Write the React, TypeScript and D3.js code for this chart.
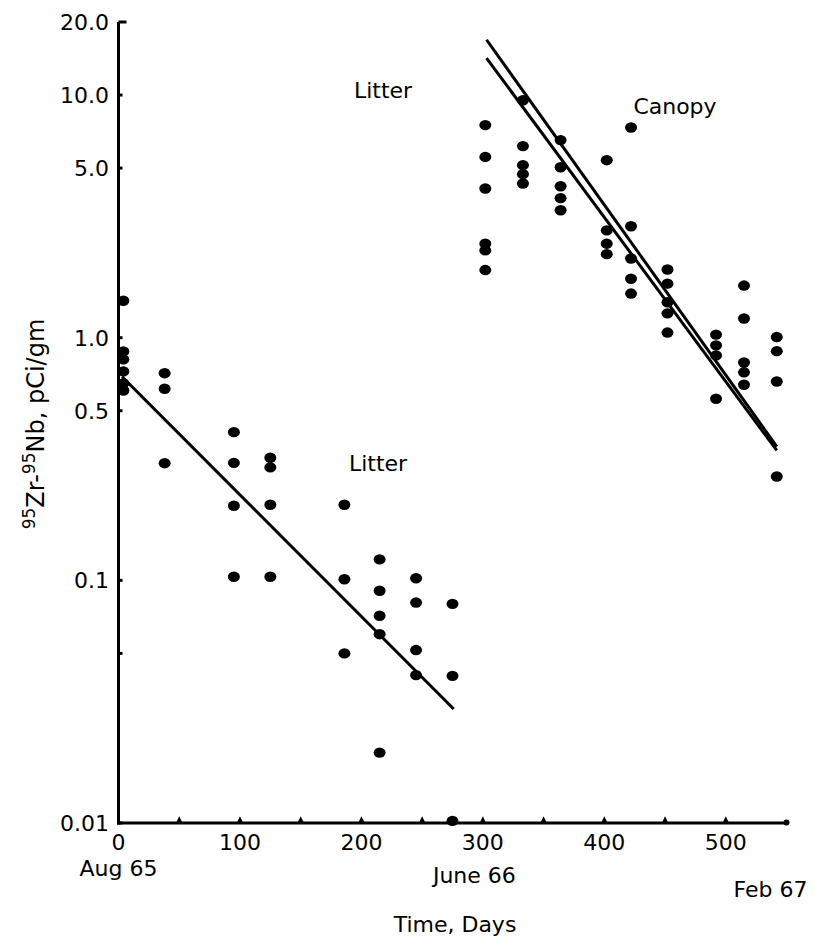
import React from "react";
import * as d3 from "d3";

// Sampling days and measured activities (pCi/gm) for each collection
const litterDays = [4, 38, 95, 125, 186, 215, 245, 275];
const litterValues = [
  [1.42, 0.878, 0.814, 0.726, 0.648, 0.606],
  [0.714, 0.616, 0.304],
  [0.408, 0.305, 0.203, 0.1035],
  [0.32, 0.292, 0.205, 0.1035],
  [0.205, 0.101, 0.05],
  [0.122, 0.0906, 0.0715, 0.06, 0.0195],
  [0.102, 0.081, 0.0516, 0.0407],
  [0.08, 0.0404, 0.0102],
];

const canopyDays = [302, 333, 364, 402, 422, 452, 492, 515, 542];
const canopyValues = [
  [7.52, 5.56, 4.12, 2.44, 2.29, 1.9],
  [9.52, 6.16, 5.14, 4.72, 4.32],
  [6.52, 5.04, 4.21, 3.76, 3.35],
  [5.39, 2.77, 2.44, 2.21],
  [7.35, 2.88, 2.12, 1.75, 1.52],
  [1.91, 1.67, 1.4, 1.26, 1.05],
  [1.03, 0.93, 0.845, 0.56],
  [1.64, 1.2, 0.79, 0.72, 0.64],
  [1.006, 0.88, 0.66, 0.268],
];

// Fitted exponential decay lines: [day, value] end points
const litterFit: [number, number][] = [[3, 0.69], [276, 0.0295]];
const canopyFitUpper: [number, number][] = [[303, 16.9], [542, 0.356]];
const canopyFitLower: [number, number][] = [[303, 14.2], [542, 0.343]];

const yTickValues = [20, 10, 5, 1, 0.5, 0.1, 0.05, 0.01];
const yTickLabels = ["20.0", "10.0", "5.0", "1.0", "0.5", "0.1", "", "0.01"];
const xTickValues = [50, 100, 150, 200, 250, 300, 350, 400, 450, 500];
const xLabelValues = [0, 100, 200, 300, 400, 500];
const dateLabels = ["Aug 65", "June 66", "Feb 67"];
const dateDays = [0, 293, 550];

const FONT = "'DejaVu Sans', sans-serif";

export default function App() {
  const x = d3.scaleLinear().domain([0, 550]).range([118.5, 786.5]);
  const y = d3.scaleLog().domain([0.01, 20]).range([823, 22]);
  const line = d3
    .line<[number, number]>()
    .x((d) => x(d[0]))
    .y((d) => y(d[1]));

  const points: [number, number][] = [];
  litterDays.forEach((d, i) => litterValues[i].forEach((v) => points.push([d, v])));
  canopyDays.forEach((d, i) => canopyValues[i].forEach((v) => points.push([d, v])));

  const x0 = x(0);
  const yBase = y(0.01);
  const dateBaselines = [876, 883, 897];
  const dateAnchors = ["middle", "middle", "end"];
  const dateShift = [0, 0, 21];

  return (
    <svg
      width={814}
      height={945}
      style={{ position: "absolute", left: 0, top: 0, background: "#fff" }}
      fontFamily={FONT}
    >
      <rect width={814} height={945} fill="#fff" />
      {/* axes */}
      <line x1={x0} x2={x0} y1={y(20)} y2={yBase + 1.5} stroke="#000" strokeWidth={3} />
      <line x1={x0 - 1.5} x2={x(550)} y1={yBase} y2={yBase} stroke="#000" strokeWidth={3} />
      <circle cx={x(550)} cy={yBase - 0.5} r={3} fill="#000" />
      {yTickValues.map((v, i) => (
        <g key={"yt" + i}>
          <line
            x1={x0}
            x2={x0 + (v === 20 ? 8 : 4)}
            y1={y(v)}
            y2={y(v)}
            stroke="#000"
            strokeWidth={3}
          />
          {yTickLabels[i] && (
            <text x={109} y={y(v)} dy="0.36em" textAnchor="end" fontSize={22}>
              {yTickLabels[i]}
            </text>
          )}
        </g>
      ))}
      {xTickValues.map((v) => (
        <path
          key={"xt" + v}
          d={`M${x(v) - 2.5},${yBase} L${x(v)},${yBase - 5} L${x(v) + 2.5},${yBase} Z`}
          fill="#000"
          stroke="#000"
          strokeWidth={1.5}
        />
      ))}
      {xLabelValues.map((v) => (
        <text key={"xl" + v} x={x(v)} y={850} textAnchor="middle" fontSize={22}>
          {v}
        </text>
      ))}
      {dateLabels.map((t, i) => (
        <text
          key={t}
          x={x(dateDays[i]) + dateShift[i]}
          y={dateBaselines[i]}
          textAnchor={dateAnchors[i]}
          fontSize={22}
        >
          {t}
        </text>
      ))}
      <text x={455} y={932} textAnchor="middle" fontSize={22}>
        Time, Days
      </text>
      {/* y axis title */}
      <text transform="translate(44,424) rotate(-90)" textAnchor="middle" fontSize={24}>
        <tspan fontSize={17} dy={-9}>95</tspan>
        <tspan dy={9}>Zr-</tspan>
        <tspan fontSize={17} dy={-9}>95</tspan>
        <tspan dy={9}>Nb, pCi/gm</tspan>
      </text>
      {/* fitted lines */}
      <path d={line(litterFit) || ""} stroke="#000" strokeWidth={3} fill="none" />
      <path d={line(canopyFitUpper) || ""} stroke="#000" strokeWidth={3} fill="none" />
      <path d={line(canopyFitLower) || ""} stroke="#000" strokeWidth={3} fill="none" />
      {/* measurements */}
      {points.map((p, i) => (
        <ellipse key={"p" + i} cx={x(p[0])} cy={y(p[1])} rx={6} ry={5.2} fill="#000" />
      ))}
      {/* annotations */}
      <text x={383} y={98} textAnchor="middle" fontSize={22}>
        Litter
      </text>
      <text x={675} y={114} textAnchor="middle" fontSize={22}>
        Canopy
      </text>
      <text x={378} y={471} textAnchor="middle" fontSize={22}>
        Litter
      </text>
    </svg>
  );
}
